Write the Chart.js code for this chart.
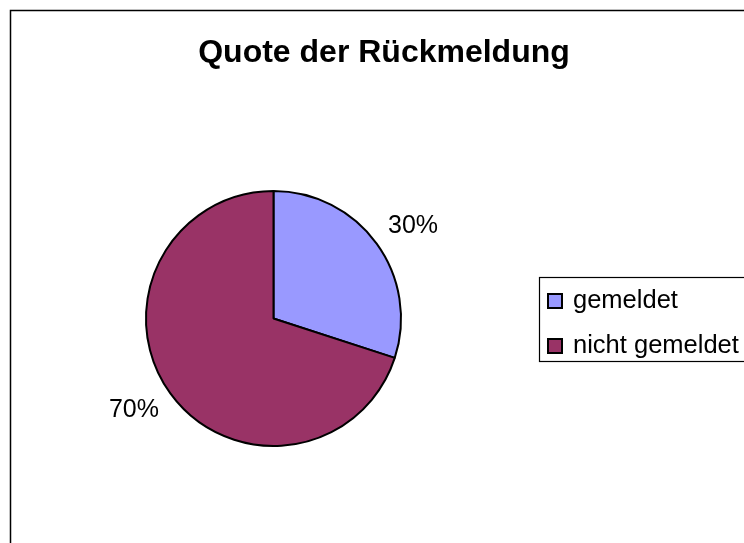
<!DOCTYPE html>
<html>
<head>
<meta charset="utf-8">
<script src="https://cdn.jsdelivr.net/npm/chart.js@4"></script>
<style>
html,body{margin:0;padding:0;background:#fff;}
#wrap{width:744px;height:543px;position:relative;}
</style>
</head>
<body>
<div id="wrap"><canvas id="c" width="744" height="543"></canvas></div>
<script>
const chartTitle = 'Quote der Rückmeldung';
const categories = ['gemeldet', 'nicht gemeldet'];
const values = [30, 70];
const colors = ['#9999FF', '#993366'];

const FONT = '"Liberation Sans", Arial, sans-serif';

const decor = {
  id: 'decor',
  afterDraw(chart) {
    const ctx = chart.ctx;
    ctx.save();
    // outer border (open to the right/bottom)
    ctx.strokeStyle = '#000';
    ctx.lineWidth = 1.5;
    ctx.beginPath();
    ctx.moveTo(10.5, 560);
    ctx.lineTo(10.5, 10.5);
    ctx.lineTo(760, 10.5);
    ctx.stroke();

    // title
    ctx.fillStyle = '#000';
    ctx.font = 'bold 32px ' + FONT;
    ctx.textAlign = 'center';
    ctx.textBaseline = 'alphabetic';
    ctx.fillText(chartTitle, 384, 62);

    // percentage labels
    const meta = chart.getDatasetMeta(0);
    const total = values.reduce((a, b) => a + b, 0);
    ctx.font = '25px ' + FONT;
    ctx.textBaseline = 'middle';
    meta.data.forEach((arc, i) => {
      const p = arc.getProps(['x', 'y', 'startAngle', 'endAngle', 'outerRadius'], true);
      const mid = (p.startAngle + p.endAngle) / 2;
      const txt = Math.round(values[i] / total * 100) + '%';
      const w = ctx.measureText(txt).width;
      const h = 18;
      const d = p.outerRadius + 20;
      const x = p.x + d * Math.cos(mid) + (w / 2) * Math.cos(mid);
      const y = p.y + d * Math.sin(mid) + (h / 2) * Math.sin(mid);
      ctx.fillText(txt, x, y);
    });

    // legend
    ctx.lineWidth = 1.2;
    ctx.strokeStyle = '#000';
    ctx.strokeRect(539.5, 277.5, 300, 84);
    ctx.textAlign = 'left';
    ctx.font = '25.5px ' + FONT;
    categories.forEach((c, i) => {
      const y = 301 + i * 45;
      ctx.fillStyle = colors[i];
      ctx.fillRect(548, y - 7, 14, 14);
      ctx.strokeStyle = '#000';
      ctx.lineWidth = 2;
      ctx.strokeRect(548, y - 7, 14, 14);
      ctx.fillStyle = '#000';
      ctx.fillText(c, 573, y);
    });
    ctx.restore();
  }
};

new Chart(document.getElementById('c'), {
  type: 'pie',
  data: {
    labels: categories,
    datasets: [{
      data: values,
      backgroundColor: colors,
      borderColor: '#000',
      borderWidth: 2,
      hoverOffset: 0
    }]
  },
  options: {
    responsive: false,
    animation: false,
    devicePixelRatio: 1,
    layout: { padding: { left: 145, top: 190, right: 342, bottom: 96 } },
    plugins: {
      legend: { display: false },
      title: { display: false },
      tooltip: { enabled: false }
    }
  },
  plugins: [decor]
});
</script>
</body>
</html>
